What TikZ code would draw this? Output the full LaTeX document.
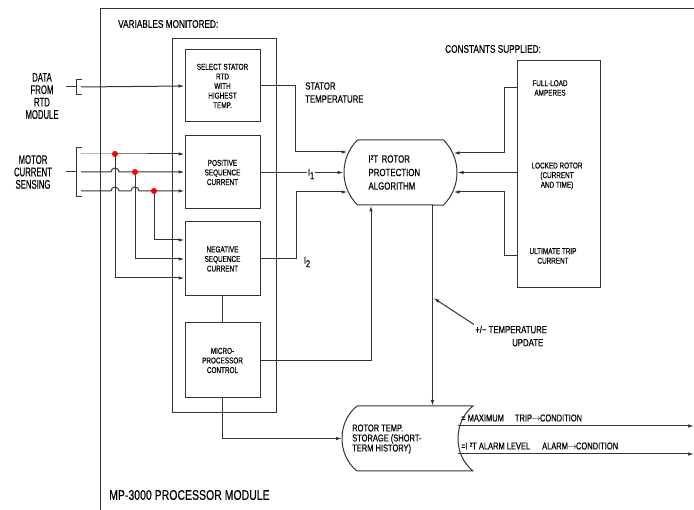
\documentclass[tikz,border=0pt]{standalone}
\usepackage{fontspec}
\setmainfont{Liberation Sans}
\newfontfamily\cadw{Liberation Sans}[FakeStretch=0.75,FakeBold=0.3]
\newfontfamily\cadn{Liberation Sans}[FakeStretch=0.62,FakeBold=0.3]
\usetikzlibrary{arrows.meta,shapes.misc,positioning}

\begin{document}
\begin{tikzpicture}[x=1pt,y=-1pt,
	every node/.style={font=\cadw\fontsize{8.5}{9.6}\selectfont, inner sep=1pt},
	ln/.style={line width=1pt, draw=black!80},
	arr/.style={ln, -{Latex[length=6pt,width=3.5pt]}},
	blk/.style={ln, draw, minimum width=75pt, align=center},
	lbl/.style={font=\cadn\fontsize{12.5}{12.4}\selectfont, align=center},
	hd/.style={font=\cadw\fontsize{11}{13}\selectfont, anchor=west},
	txt/.style={font=\cadw\fontsize{10.4}{13}\selectfont, anchor=west, align=left},
	sub/.style={font=\cadw\fontsize{10}{10}\selectfont},
	dot/.style={circle, fill=red, inner sep=0pt, minimum size=6pt}]
	\useasboundingbox (0,0) rectangle (694,510);
	\draw[ln] (100,510) -- (100,9) -- (694,9);
	\node[hd] (vm) at (117,24) {VARIABLES MONITORED:};
	\node[hd] (cs) at (444,49) {CONSTANTS SUPPLIED:};
	\node[font=\cadw\fontsize{14}{14}\selectfont, anchor=west] (mp) at (108,495) {MP-3000 PROCESSOR MODULE};

	\node[ln, draw, minimum width=104pt, minimum height=374pt] (grp) at (224,226) {};
	\node[blk, minimum height=72pt] (sel) at (222.5,86) {SELECT STATOR\\RTD\\WITH\\HIGHEST\\TEMP.};
	\node[blk, minimum height=73pt] (pos) at (222.5,172.5) {POSITIVE\\SEQUENCE\\CURRENT};
	\node[blk, minimum height=74pt] (neg) at (222.5,259) {NEGATIVE\\SEQUENCE\\CURRENT};
	\node[blk, minimum height=75pt] (mpc) at (222.5,360.5) {MICRO-\\PROCESSOR\\CONTROL};
	\node[ln, draw, rounded rectangle, rounded rectangle arc length=90, minimum width=115pt, minimum height=65pt, text width=64pt, align=left, font=\cadw\fontsize{10.5}{13.5}\selectfont] (alg) at (400.5,172.5) {I²T ROTOR\\PROTECTION\\ALGORITHM};
	\node[blk, minimum width=83pt, minimum height=227pt] (cst) at (558.5,174.5) {};
	\node[align=center] (fla) at (550,88) {FULL-LOAD\\AMPERES};
	\node[align=center] (lrc) at (557,176) {LOCKED ROTOR\\(CURRENT\\AND TIME)};
	\node[align=center] (utc) at (553,256) {ULTIMATE TRIP\\CURRENT};

	\node[lbl] (rtd) at (42,96) {DATA\\FROM\\RTD\\MODULE};
	\node[lbl] (mcs) at (33,172) {MOTOR\\CURRENT\\SENSING};
	\node[txt] (st) at (304,92.5) {STATOR\\TEMPERATURE};
	\node[txt] (tu) at (474,336) {+/− TEMPERATURE\\\hspace*{37pt}UPDATE};
	\node[sub] (i1) at (311,174) {I\raisebox{-3.5pt}{1}};
	\node[sub] (i2) at (307,262) {I\raisebox{-3.5pt}{2}};

	\coordinate (rtdin) at (81,87);
	\coordinate (m1) at (81,154);
	\coordinate (m2) at (81,172);
	\coordinate (m3) at (81,191);
	\coordinate (d1) at (115,154);
	\coordinate (d2) at (135,172);
	\coordinate (d3) at (154,191);
	\coordinate (sto-nw) at (357,406);
	\coordinate (sto-ne) at (473,406);
	\coordinate (sto-se) at (473,471);
	\coordinate (sto-sw) at (357,471);
	\coordinate (sto-w) at (342,438.5);
	\coordinate (sto-n) at (432.5,406);
	\coordinate (o1) at (458,426);
	\coordinate (o2) at (458,454);
	\coordinate (t1) at (694,426);
	\coordinate (t2) at (694,454);
	\coordinate (tup) at (433.5,298);

	\draw[ln] (sto-nw) -- (sto-ne) .. controls +(-20pt,-16pt) and +(-20pt,16pt) .. (sto-se) -- (sto-sw) .. controls +(-20pt,16pt) and +(-20pt,-16pt) .. (sto-nw);
	\node[font=\cadw\fontsize{10}{10}\selectfont, anchor=west, align=left] (sto) at (351,439) {ROTOR TEMP.\\STORAGE (SHORT-\\TERM HISTORY)};
	\node[font=\cadw\fontsize{10}{10}\selectfont, anchor=west] (trip) at (460,418) {= MAXIMUM\hspace{11pt}TRIP\kern-1pt$\rightarrow$\kern-1pt CONDITION};
	\node[font=\cadw\fontsize{10}{10}\selectfont, anchor=west] (alarm) at (460,446) {=I ²T ALARM LEVEL\hspace{12pt}ALARM\kern-1pt$\rightarrow$\kern-1pt CONDITION};

	\draw[ln] (66,87) -- (76,87);
	\draw[ln] (82,80) -| (76,95) -- (82,95);
	\draw[ln] (66,172) -- (76,172);
	\draw[ln] (82,148) -| (76,197) -- (82,197);
	\draw[arr] (rtdin) -- (sel.west);
	\draw[arr] (m1) -- (d1) -- (pos.west |- d1);
	\draw[arr] (m2) -- ++(30pt,0) arc[start angle=180, end angle=0, radius=4pt] -- (d2) -- (pos.west |- d2);
	\draw[arr] (m3) -- ++(30pt,0) arc[start angle=180, end angle=0, radius=4pt] -- ++(12pt,0) arc[start angle=180, end angle=0, radius=4pt] -- (d3) -- (pos.west |- d3);
	\draw[arr] (d1) |- ([yshift=-19pt]neg.west);
	\draw[arr] (d2) |- (neg.west);
	\draw[arr] (d3) |- ([yshift=19pt]neg.west);
	\node[dot] (dot1) at (d1) {};
	\node[dot] (dot2) at (d2) {};
	\node[dot] (dot3) at (d3) {};

	\draw[arr] (sel.east) -- ++(35pt,0) |- ([xshift=4pt,yshift=20.5pt]alg.west);
	\draw[ln] (pos.east) -- (pos.east -| i1.west);
	\draw[arr] (pos.east -| i1.east) -- (alg.west);
	\draw[arr] (neg.east) -- ++(36pt,0) |- ([xshift=4pt,yshift=-19.5pt]alg.west);
	\draw[ln] (neg.south) -- (mpc.north);
	\draw[arr] (mpc.east) -| ([xshift=-29.5pt]alg.south);
	\draw[arr] (mpc.south) |- (sto-w);
	\draw[arr] ([xshift=32pt]alg.south) -- (sto-n);
	\draw[arr] (tu.north west) -- (tup);
	\draw[arr] (cst.west |- fla) -- ++(-12pt,0) |- ([xshift=-4pt,yshift=19.5pt]alg.east);
	\draw[arr] (cst.west |- alg.east) -- (alg.east);
	\draw[arr] (cst.west |- utc) -- ++(-12pt,0) |- ([xshift=-4pt,yshift=-19.5pt]alg.east);
	\draw[arr] (o1) -- (t1);
	\draw[arr] (o2) -- (t2);
\end{tikzpicture}
\end{document}
